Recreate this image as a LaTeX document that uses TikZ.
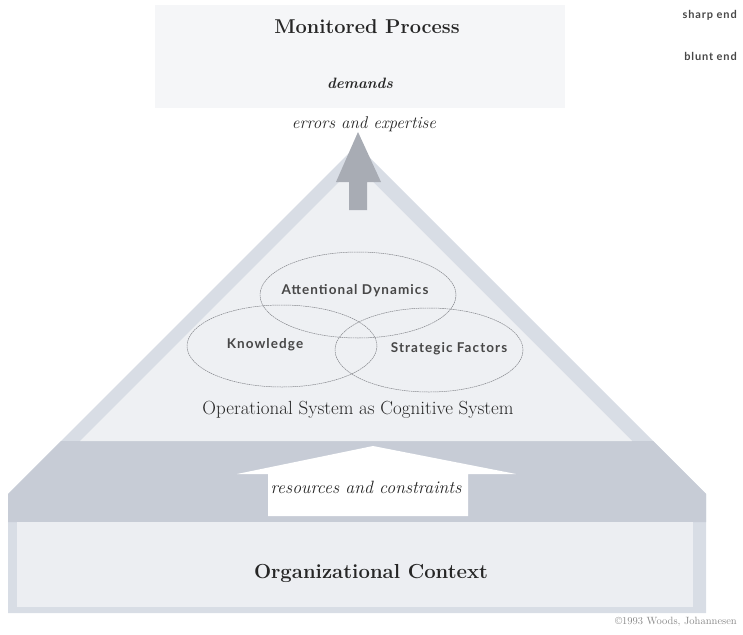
\documentclass[tikz,border=0pt]{standalone}
\usepackage{fontspec}
\newfontfamily\labelfont[LetterSpace=8]{Lato}
\usetikzlibrary{positioning}
\definecolor{boxgrey}{HTML}{F5F6F8}
\definecolor{rimgrey}{HTML}{D8DDE5}
\definecolor{coregrey}{HTML}{EEF0F3}
\definecolor{bandgrey}{HTML}{C7CCD6}
\definecolor{ctxgrey}{HTML}{ECEEF2}
\definecolor{arrowgrey}{HTML}{A8ACB4}
\definecolor{inkgrey}{HTML}{262626}
\definecolor{ringgrey}{HTML}{85878C}

\begin{document}
\begin{tikzpicture}[x=1pt,y=-1pt,
  heading/.style={text=inkgrey,font=\fontsize{20}{24}\selectfont\bfseries,inner sep=0pt},
  cue/.style={text=inkgrey,font=\fontsize{17}{20}\selectfont\itshape,inner sep=0pt},
  factor/.style={text=inkgrey!85,font=\fontsize{13.5}{16}\selectfont\labelfont\bfseries,inner sep=0pt},
  ring/.style={ringgrey,line width=0.5pt,dash pattern=on 1.6pt off 0.6pt},
  endlabel/.style={text=inkgrey!85,font=\fontsize{11}{13}\selectfont\labelfont\bfseries,anchor=east,inner sep=0pt}]
\useasboundingbox (0,0) rectangle (743,634);
% monitored process
\fill[boxgrey] (155,5) rectangle (565,108);
% pyramid
\fill[rimgrey] (357,145)--(706,494)--(706,613)--(8,613)--(8,494)--cycle;
\fill[bandgrey] (61,441)--(653,441)--(706,494)--(706,522)--(8,522)--(8,494)--cycle;
\fill[coregrey] (80,441)--(356,165)--(632,441)--cycle;
\fill[ctxgrey] (17,522) rectangle (693,607);
% block arrows
\fill[arrowgrey] (358,132)--(381,182)--(367,182)--(367,210)--(349,210)--(349,182)--(336,182)--cycle;
\fill[white] (373,446)--(516,474)--(468,474)--(468,516)--(268,516)--(268,474)--(237,474)--cycle;
% cognitive factors
\draw[ring] (358,295) ellipse [x radius=98,y radius=43];
\draw[ring] (282,346) ellipse [x radius=95,y radius=41];
\draw[ring] (429,350) ellipse [x radius=94,y radius=42];
\node[heading] (process) at (367,27) {Monitored Process};
\node[cue,font=\fontsize{15}{18}\selectfont\bfseries\itshape] (demands) at (360,83) {demands};
\node[cue] (errors) at (364,124) {errors and expertise};
\node[factor] (attention) at (355,291) {Attentional Dynamics};
\node[factor] (knowledge) at (265,345) {Knowledge};
\node[factor] (strategy) at (449,349) {Strategic Factors};
\node[cue,font=\fontsize{19}{22}\selectfont] (opsystem) at (358,410) {Operational System as Cognitive System};
\node[cue,font=\fontsize{17.8}{21}\selectfont\itshape] (resources) at (366,487) {resources and constraints};
\node[heading,font=\fontsize{20.3}{24}\selectfont\bfseries] (context) at (371,573) {Organizational Context};
\node[endlabel] (sharp) at (737,15) {sharp end};
\node[endlabel] (blunt) at (737,56) {blunt end};
\node[endlabel,font=\fontsize{10.5}{12}\selectfont,text=inkgrey!55] (credit) at (737,622) {\textcopyright 1993 Woods, Johannesen};
\end{tikzpicture}
\end{document}
